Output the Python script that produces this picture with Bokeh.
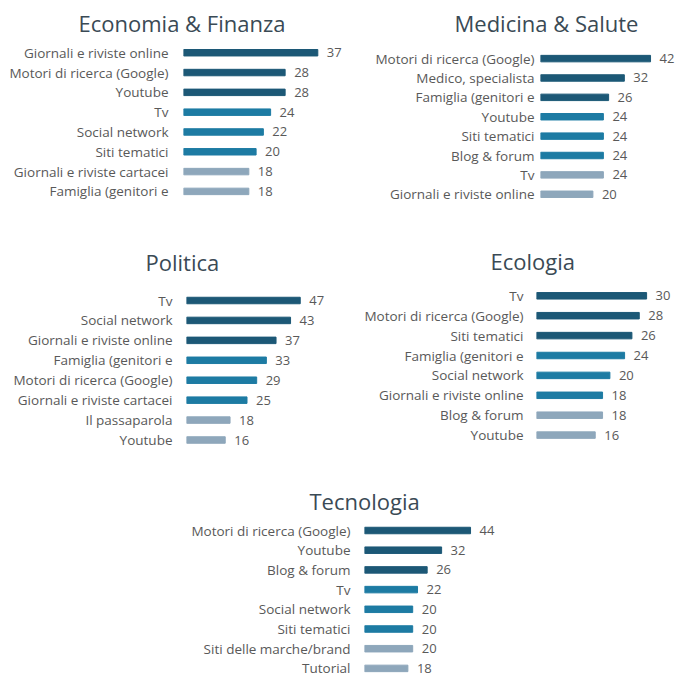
from bokeh.plotting import figure
from bokeh.layouts import column, row, Spacer
from bokeh.models import Range1d, FixedTicker, ColumnDataSource
from bokeh.core.properties import value
from bokeh.embed import file_html
from bokeh.resources import INLINE

# ---------------- data ----------------
econ_title = "Economia & Finanza"
econ_labels = ["Giornali e riviste online", "Motori di ricerca (Google)", "Youtube", "Tv",
               "Social network", "Siti tematici", "Giornali e riviste cartacei", "Famiglia (genitori e"]
econ_values = [37, 28, 28, 24, 22, 20, 18, 18]

med_title = "Medicina & Salute"
med_labels = ["Motori di ricerca (Google)", "Medico, specialista", "Famiglia (genitori e", "Youtube",
              "Siti tematici", "Blog & forum", "Tv", "Giornali e riviste online"]
med_values = [42, 32, 26, 24, 24, 24, 24, 20]

pol_title = "Politica"
pol_labels = ["Tv", "Social network", "Giornali e riviste online", "Famiglia (genitori e",
              "Motori di ricerca (Google)", "Giornali e riviste cartacei", "Il passaparola", "Youtube"]
pol_values = [47, 43, 37, 33, 29, 25, 18, 16]

eco_title = "Ecologia"
eco_labels = ["Tv", "Motori di ricerca (Google)", "Siti tematici", "Famiglia (genitori e",
              "Social network", "Giornali e riviste online", "Blog & forum", "Youtube"]
eco_values = [30, 28, 26, 24, 20, 18, 18, 16]

tec_title = "Tecnologia"
tec_labels = ["Motori di ricerca (Google)", "Youtube", "Blog & forum", "Tv", "Social network",
              "Siti tematici", "Siti delle marche/brand", "Tutorial"]
tec_values = [44, 32, 26, 22, 20, 20, 20, 18]

# ---------------- style ----------------
tier_colors = ["#1c5876", "#1c5876", "#1c5876", "#1d7ba3", "#1d7ba3", "#1d7ba3", "#8ea7bb", "#8ea7bb"]
FONT = "Open Sans"
LABEL_COLOR = "#595959"
TITLE_COLOR = "#3a4a55"


def make_panel(title, labels, values, width, height, b_left, b_top, b_bottom,
               px_per_unit, row0_px, row_step, label_standoff, title_offset, title_standoff):
    """row0_px: pixel distance from frame top to the first row centre."""
    n = len(labels)
    ys = list(range(n))
    src = ColumnDataSource(dict(y=ys, v=values, c=tier_colors[:n], t=[str(v) for v in values]))
    frame_w = width - b_left
    frame_h = height - b_top - b_bottom
    y_top = -row0_px / row_step
    y_bottom = y_top + frame_h / row_step
    p = figure(width=width, height=height, output_backend="svg", toolbar_location=None,
               x_range=Range1d(0, frame_w / px_per_unit),
               y_range=Range1d(y_bottom, y_top),
               x_axis_location=None,
               min_border_left=b_left, min_border_right=0,
               min_border_top=b_top, min_border_bottom=b_bottom)
    p.outline_line_color = None
    p.grid.visible = False
    p.hbar(y="y", left=0, right="v", height=6.5 / row_step, color="c", source=src)
    p.text(x="v", y="y", text="t", x_offset=9, text_baseline="middle", text_align="left",
           text_font=value(FONT), text_font_size="13px", text_color=LABEL_COLOR, source=src)
    ax = p.yaxis[0]
    ax.ticker = FixedTicker(ticks=ys)
    ax.major_label_overrides = {i: lab for i, lab in enumerate(labels)}
    ax.axis_line_color = None
    ax.major_tick_line_color = None
    ax.minor_tick_line_color = None
    ax.major_tick_out = 0
    ax.major_tick_in = 0
    ax.major_label_standoff = label_standoff
    ax.major_label_text_font = FONT
    ax.major_label_text_font_size = "13.5px"
    ax.major_label_text_color = LABEL_COLOR
    p.title.text = title
    p.title.align = "left"
    p.title.offset = title_offset
    p.title.standoff = title_standoff
    p.title.text_font = FONT
    p.title.text_font_size = "22px"
    p.title.text_font_style = "normal"
    p.title.text_color = TITLE_COLOR
    return p


# row 1: frame top 41, frame bottom 205
pa = make_panel(econ_title, econ_labels, econ_values, 343, 232, 183, 41, 27,
                3.63, 10.3, 19.93, 15, -105, 10)
pb = make_panel(med_title, med_labels, med_values, 333, 232, 197, 41, 27,
                2.62, 16.2, 19.5, 6, -86, 10)
# row 2: frame top 284 (52 below row top), frame bottom 450
pc = make_panel(pol_title, pol_labels, pol_values, 343, 233, 186, 52, 15,
                2.42, 16.0, 19.93, 14, -41, 15)
pd_ = make_panel(eco_title, eco_labels, eco_values, 333, 233, 193, 52, 15,
                 3.67, 11.3, 19.9, 13, -46, 17)
# row 3: frame top 521
pe = make_panel(tec_title, tec_labels, tec_values, 330, 213, 194, 56, 0,
                2.41, 9.0, 19.7, 14, -55, 11)

layout = column(row(pa, pb), row(pc, pd_), row(Spacer(width=170, height=213), pe))

open("out.html", "w").write(file_html(layout, INLINE))
